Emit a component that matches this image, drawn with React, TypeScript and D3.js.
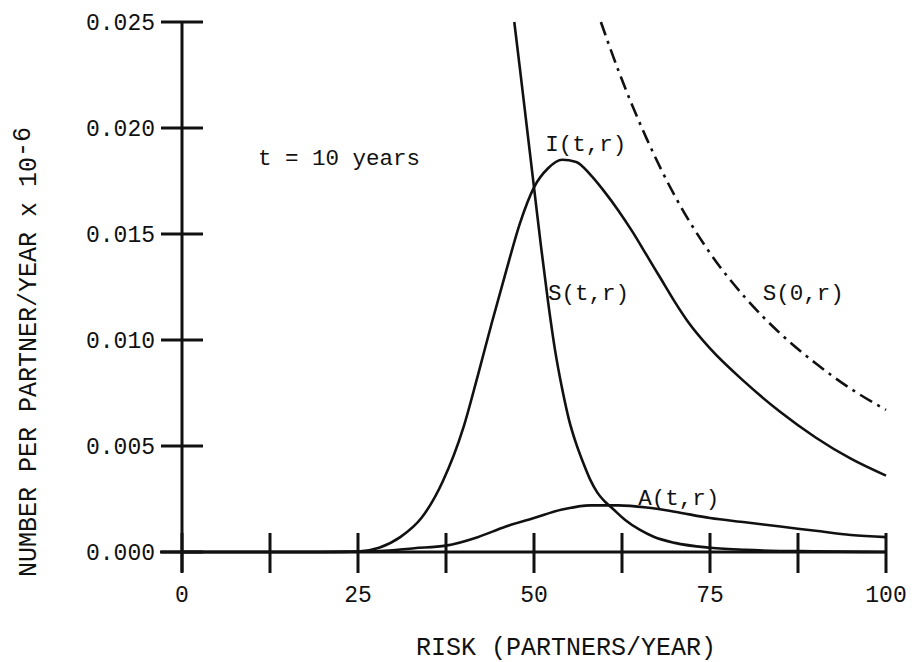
import { useMemo } from 'react';
import * as d3 from 'd3';

// risk (partners/year) and number per partner/year x 10^-6
const susNowRisk = [47.2, 48, 49, 50, 51, 52, 53, 54, 55, 56, 57, 58, 59, 60, 61, 63, 65, 67, 70, 75, 80, 90, 100];
const susNowVal = [0.025, 0.0228, 0.02, 0.0172, 0.0144, 0.0118, 0.0095, 0.0077, 0.0062, 0.0051, 0.0042, 0.0034, 0.0028, 0.0024, 0.0021, 0.0015, 0.00105, 0.00072, 0.00043, 0.0002, 0.0001, 0.00003, 0];

const infRisk = [0, 20, 25, 28, 31, 34, 37, 40, 42, 44, 46, 48, 50, 52, 54, 56, 58, 60, 62, 64, 66, 68, 70, 72, 75, 80, 85, 90, 95, 100];
const infVal = [0, 0, 0.00002, 0.0002, 0.0007, 0.0016, 0.0033, 0.0059, 0.0083, 0.0108, 0.0132, 0.0155, 0.0172, 0.0181, 0.0185, 0.0184, 0.0178, 0.017, 0.0161, 0.0151, 0.014, 0.0129, 0.0118, 0.0108, 0.0096, 0.008, 0.0066, 0.0054, 0.0044, 0.0036];

const susStartRisk = [59.5, 62, 66, 70, 75, 80, 85, 90, 95, 100];
const susStartVal = [0.025, 0.0227, 0.0195, 0.0168, 0.0141, 0.012, 0.0103, 0.0089, 0.0077, 0.0067];

const aidsRisk = [0, 20, 28, 33, 37.5, 42, 46, 50, 54, 58, 62, 66, 70, 75, 80, 85, 90, 95, 100];
const aidsVal = [0, 0, 0.00005, 0.00018, 0.0003, 0.0007, 0.0012, 0.0016, 0.002, 0.0022, 0.0022, 0.0021, 0.0019, 0.0016, 0.0014, 0.0012, 0.001, 0.0008, 0.0007];

const xTicks = [0, 12.5, 25, 37.5, 50, 62.5, 75, 87.5, 100];
const xTickLabels = ['0', '25', '50', '75', '100'];
const yTicks = [0, 0.005, 0.01, 0.015, 0.02, 0.025];
const yTickLabels = ['0.000', '0.005', '0.010', '0.015', '0.020', '0.025'];

const curveLabels = [
  { text: 'I(t,r)', r: 51.6, v: 0.0189 },
  { text: 'S(t,r)', r: 52, v: 0.0119 },
  { text: 'S(0,r)', r: 82.5, v: 0.0119 },
  { text: 'A(t,r)', r: 64.8, v: 0.0022 },
  { text: 't = 10 years', r: 10.8, v: 0.01825 },
];

const FONT = '"Liberation Mono", "Courier New", monospace';

export default function App() {
  const width = 912;
  const height = 662;

  const x = d3.scaleLinear().domain([0, 100]).range([182, 886]);
  const y = d3.scaleLinear().domain([0, 0.025]).range([552, 22]);

  const line = d3
    .line<[number, number]>()
    .x((d) => x(d[0]))
    .y((d) => y(d[1]))
    .curve(d3.curveMonotoneX);

  const paths = useMemo(() => {
    const zip = (a: number[], b: number[]) => a.map((r, i) => [r, b[i]] as [number, number]);
    return {
      susNow: line(zip(susNowRisk, susNowVal)),
      inf: line(zip(infRisk, infVal)),
      susStart: line(zip(susStartRisk, susStartVal)),
      aids: line(zip(aidsRisk, aidsVal)),
    };
  }, []);

  const labelled = [0, 25, 50, 75, 100];

  return (
    <svg
      width={width}
      height={height}
      style={{ position: 'absolute', left: 0, top: 0, background: '#fff' }}
    >
      {/* axes */}
      <g stroke="#111" strokeWidth={3} fill="none">
        <line x1={x(0)} x2={x(0)} y1={y(0.025)} y2={y(0) + 20} />
        <line x1={x(0) - 22} x2={x(100)} y1={y(0)} y2={y(0)} />
        {yTicks.map((t) => (
          <line key={'yt' + t} x1={x(0) - 21} x2={x(0) + 21} y1={y(t)} y2={y(t)} />
        ))}
        {xTicks.map((t) => (
          <line key={'xt' + t} x1={x(t)} x2={x(t)} y1={y(0) - 19} y2={y(0) + 21} />
        ))}
      </g>

      {/* tick labels */}
      <g fontFamily={FONT} fontSize={23} fill="#111">
        {yTicks.map((t, i) => (
          <text key={'yl' + t} x={x(0) - 27} y={y(t)} dy="0.35em" textAnchor="end">
            {yTickLabels[i]}
          </text>
        ))}
        {labelled.map((t, i) => (
          <text key={'xl' + t} x={x(t)} y={y(0) + 50} textAnchor="middle">
            {xTickLabels[i]}
          </text>
        ))}
      </g>

      {/* axis titles */}
      <text x={566} y={655} fontFamily={FONT} fontSize={25} fill="#111" textAnchor="middle">
        RISK (PARTNERS/YEAR)
      </text>
      <text
        transform="translate(36,352) rotate(-90)"
        fontFamily={FONT}
        fontSize={25}
        fill="#111"
        textAnchor="middle"
      >
        NUMBER PER PARTNER/YEAR x 10<tspan dy={-6}>-6</tspan>
      </text>

      {/* curves */}
      <g fill="none" stroke="#111" strokeWidth={2.6} strokeLinejoin="round">
        <path d={paths.inf ?? ''} />
        <path d={paths.susNow ?? ''} />
        <path d={paths.aids ?? ''} />
        <path d={paths.susStart ?? ''} strokeDasharray="14 6 3 6" />
      </g>

      {/* curve labels */}
      <g fontFamily={FONT} fontSize={22.5} fill="#111">
        {curveLabels.map((l) => (
          <text key={l.text} x={x(l.r)} y={y(l.v)}>
            {l.text}
          </text>
        ))}
      </g>
    </svg>
  );
}
